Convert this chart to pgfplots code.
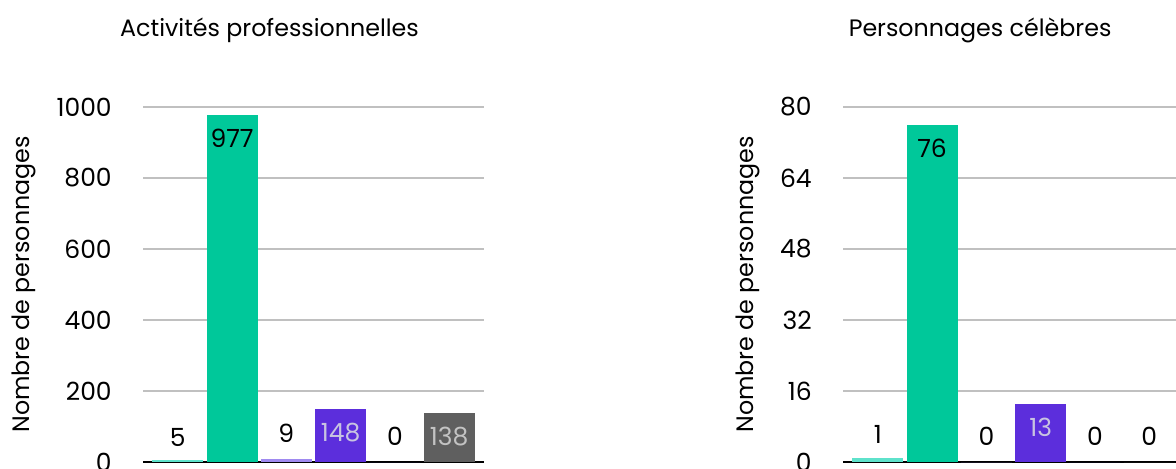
\documentclass[border=0pt]{standalone}
\usepackage{fontspec}
\setmainfont{Poppins}
\usepackage{pgfplots}
\pgfplotsset{compat=1.18}

\definecolor{cTeal}{RGB}{94,226,203}
\definecolor{cGreen}{RGB}{0,200,154}
\definecolor{cLPurple}{RGB}{160,138,240}
\definecolor{cPurple}{RGB}{92,46,220}
\definecolor{cFive}{RGB}{40,40,120}
\definecolor{cGrey}{RGB}{95,95,95}
\definecolor{cGrid}{RGB}{192,192,192}
\definecolor{cLblP}{RGB}{200,195,225}
\definecolor{cLblG}{RGB}{195,195,195}

\newcommand{\lbl}{\fontsize{9.5}{11}\selectfont}
\newcommand{\tck}{\fontsize{10}{12}\selectfont}

\pgfplotsset{
  panel/.style={
    scale only axis, width=136.4pt, height=142pt,
    xmin=-0.64, xmax=5.64, ymin=0,
    axis x line=bottom, axis y line=left,
    x axis line style={black, line width=1pt, -},
    y axis line style={draw=none},
    major tick length=0pt,
    xtick=\empty,
    ymajorgrids, grid style={cGrid, line width=0.9pt},
    yticklabel style={font=\tck, xshift=-9pt, /pgf/number format/1000 sep={}},
    /pgf/number format/assume math mode=true,
    ylabel={Nombre de personnages},
    ylabel style={font=\lbl, yshift=1.3pt},
    title style={font=\lbl, anchor=base},
    ybar, bar width=20.4pt,
    clip=false,
  },
  b/.style={fill=#1, draw=none, bar shift=0pt},
  out/.style={nodes near coords, nodes near coords style={font=\tck, text=black, yshift=#1}},
  in/.style={nodes near coords, nodes near coords align={below}, nodes near coords style={font=\tck, text=#1, yshift=-2pt}},
}

\begin{document}
\begin{tikzpicture}
\begin{axis}[panel, at={(57.2pt,2.4pt)}, anchor=south west,
  ymax=1000, ytick={0,200,400,600,800,1000},
  title={Activités professionnelles},
  title style={at={(rel axis cs:0.371,1.155)}}]
\addplot[b=cTeal, out=2pt] coordinates {(0,5)};
\addplot[b=cGreen, in=black] coordinates {(1,977)};
\addplot[b=cLPurple, out=3pt] coordinates {(2,9)};
\addplot[b=cPurple, in=cLblP] coordinates {(3,148)};
\addplot[b=cFive, out=3pt] coordinates {(4,0)};
\addplot[b=cGrey, in=cLblG] coordinates {(5,138)};
\end{axis}
\begin{axis}[panel, at={(337.2pt,2.4pt)}, anchor=south west,
  ymax=80, ytick={0,16,32,48,64,80},
  title={Personnages célèbres},
  title style={at={(rel axis cs:0.402,1.155)}}]
\addplot[b=cTeal, out=2pt] coordinates {(0,1)};
\addplot[b=cGreen, in=black] coordinates {(1,76)};
\addplot[b=cLPurple, out=3pt] coordinates {(2,0)};
\addplot[b=cPurple, in=cLblP] coordinates {(3,13)};
\addplot[b=cFive, out=3pt] coordinates {(4,0)};
\addplot[b=cGrey, out=3pt] coordinates {(5,0)};
\end{axis}
\pgfresetboundingbox
\path[use as bounding box] (0,0) rectangle (470.4pt,187.2pt);
\end{tikzpicture}
\end{document}
